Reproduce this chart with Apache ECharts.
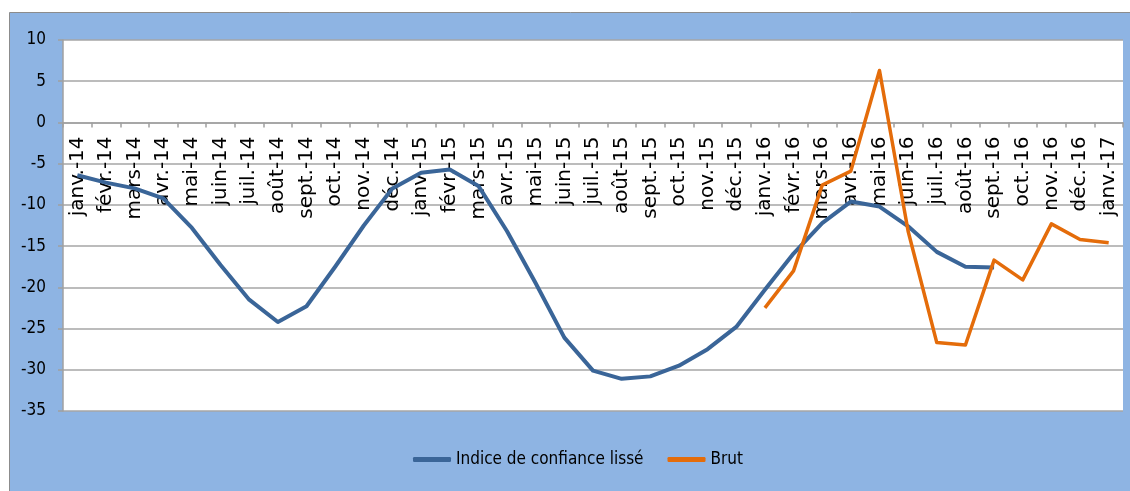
<!DOCTYPE html>
<html lang="fr">

<head>
    <meta charset="UTF-8">
    <title>Indice de confiance</title>
    <script src="https://cdn.jsdelivr.net/npm/echarts@6/dist/echarts.min.js"></script>
    <style>
        html,
        body {
            height: 100%;
            width: 100%;
            margin: 0px;
            background-color: white;
        }

        #chart {
            width: 1130px;
            height: 491px;
        }
    </style>
</head>

<body>
    <div id="chart"></div>
    <script>
        // categories, janv.-14 -> janv.-17
        var months = ['janv.', 'févr.', 'mars', 'avr.', 'mai', 'juin', 'juil.', 'août', 'sept.', 'oct.', 'nov.', 'déc.'];
        var categories = [];
        ['14', '15', '16'].forEach(function (yy) {
            months.forEach(function (m) { categories.push(m + '-' + yy); });
        });
        categories.push('janv.-17');

        // indice lissé (janv.-14 -> sept.-16)
        var smoothed = [-6.4, -7.3, -8.0, -9.2, -12.8, -17.3, -21.5, -24.2, -22.3, -17.5, -12.5, -8.0,
            -6.1, -5.7, -7.7, -13.2, -19.5, -26.1, -30.1, -31.1, -30.8, -29.5, -27.5, -24.8,
            -20.3, -15.9, -12.2, -9.6, -10.2, -12.6, -15.7, -17.5, -17.6];

        // brut (janv.-16 -> janv.-17)
        var brutStart = 24;
        var brutValues = [-22.5, -18.0, -7.6, -5.9, 6.3, -13.2, -26.7, -27.0, -16.7, -19.1, -12.3, -14.2, -14.6];
        var brut = [];
        for (var i = 0; i < categories.length; i++) {
            brut.push(i < brutStart ? null : brutValues[i - brutStart]);
        }

        var yTicks = { min: -35, max: 10, interval: 5 };

        var gridTop = 40, gridBottom = 80, chartH = 491;
        // move the category axis up onto the 0 line
        var plotH = chartH - gridTop - gridBottom;
        var zeroOffset = -plotH * (0 - yTicks.min) / (yTicks.max - yTicks.min);

        var cond = "'DejaVu Sans Condensed', 'DejaVu Sans', sans-serif";

        var chart = echarts.init(document.getElementById('chart'));
        chart.setOption({
            animation: false,
            backgroundColor: '#ffffff',
            graphic: [{
                type: 'rect',
                z: -10,
                shape: { x: 9.5, y: 12.5, width: 1125, height: 485 },
                style: { fill: '#8eb4e3', stroke: '#8c8c8c', lineWidth: 1 }
            }],
            grid: {
                left: 63, top: gridTop, right: 7, bottom: gridBottom,
                show: true, backgroundColor: '#ffffff', borderWidth: 0
            },
            legend: {
                left: 413, top: 451, padding: 0,
                icon: 'roundRect',
                itemWidth: 38, itemHeight: 5, itemGap: 24,
                textStyle: { fontFamily: cond, fontSize: 17, color: '#000' },
                data: ['Indice de confiance lissé', 'Brut']
            },
            xAxis: {
                type: 'category',
                data: categories,
                boundaryGap: true,
                position: 'bottom',
                offset: zeroOffset,
                axisLine: { onZero: false, lineStyle: { color: '#a0a0a0', width: 1.5 } },
                axisTick: { show: true, interval: 0, length: 5, lineStyle: { color: '#a0a0a0', width: 1.5 } },
                axisLabel: {
                    interval: 0, rotate: 90, margin: 14,
                    fontFamily: 'DejaVu Sans', fontSize: 20, color: '#000'
                }
            },
            yAxis: {
                type: 'value',
                min: yTicks.min, max: yTicks.max, interval: yTicks.interval,
                axisLine: { show: true, lineStyle: { color: '#a0a0a0', width: 1.5 } },
                axisTick: { show: true, length: 5, lineStyle: { color: '#a0a0a0', width: 1.5 } },
                axisLabel: { margin: 17, fontFamily: cond, fontSize: 17, color: '#000' },
                splitLine: { lineStyle: { color: '#a6a6a6', width: 1.5 } }
            },
            series: [{
                name: 'Indice de confiance lissé',
                type: 'line',
                data: smoothed,
                symbol: 'none',
                color: '#3a6598',
                lineStyle: { width: 4, color: '#3a6598', join: 'round' }
            }, {
                name: 'Brut',
                type: 'line',
                data: brut,
                symbol: 'none',
                color: '#e46c0a',
                lineStyle: { width: 3.5, color: '#e46c0a', join: 'round' }
            }]
        });
    </script>
</body>

</html>
